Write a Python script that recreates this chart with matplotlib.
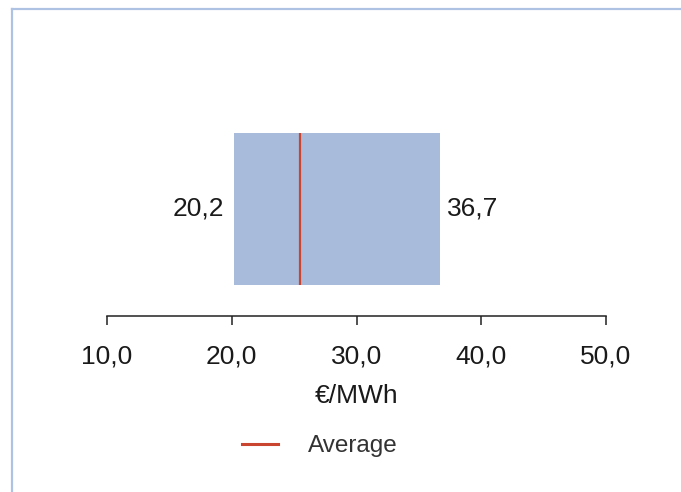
import matplotlib
matplotlib.use("Agg")
import matplotlib.pyplot as plt
from matplotlib.lines import Line2D
from matplotlib.ticker import FuncFormatter

# Data
categories = ["Price range"]
low_values = [20.2]
high_values = [36.7]
average_values = [25.5]
x_ticks = [10, 20, 30, 40, 50]
x_label = "€/MWh"
legend_label = "Average"

plt.rcParams['font.family'] = ['Liberation Sans', 'DejaVu Sans']

W, H = 681, 492
fig = plt.figure(figsize=(W / 100, H / 100), dpi=100)

# axes placement in pixels
ax_left, ax_right = 107, 606
ax_bottom_px, ax_top_px = 316, 100
ax = fig.add_axes([ax_left / W, 1 - ax_bottom_px / H,
                   (ax_right - ax_left) / W, (ax_bottom_px - ax_top_px) / H])

bar_h = 0.7
ys = list(range(len(categories)))
widths = [h - l for l, h in zip(low_values, high_values)]
ax.barh(ys, widths, left=low_values, height=bar_h, color='#a8bbda', zorder=2)
for y, avg in zip(ys, average_values):
    ax.vlines(avg, y - bar_h / 2, y + bar_h / 2, color='#c9452f', lw=1.6, zorder=3)

for y, l, h in zip(ys, low_values, high_values):
    ax.annotate(f"{l:.1f}".replace('.', ','), xy=(l, y), xytext=(-7, 0),
                textcoords='offset points', ha='right', va='center',
                fontsize=19, color='#1a1a1a')
    ax.annotate(f"{h:.1f}".replace('.', ','), xy=(h, y), xytext=(5, 0),
                textcoords='offset points', ha='left', va='center',
                fontsize=19, color='#1a1a1a')

ax.set_xlim(x_ticks[0], x_ticks[-1])
ax.set_ylim(-0.4925, 0.5)
ax.set_xticks(x_ticks)
ax.xaxis.set_major_formatter(FuncFormatter(lambda v, p: f"{v:.1f}".replace('.', ',')))
ax.set_yticks([])
for s in ['top', 'right', 'left']:
    ax.spines[s].set_visible(False)
ax.spines['bottom'].set_color('#222222')
ax.spines['bottom'].set_linewidth(1.1)
ax.tick_params(axis='x', direction='out', length=6.5, width=1.1, color='#222222',
               labelsize=19, labelcolor='#1a1a1a', pad=14)
ax.set_xlabel(x_label, fontsize=19, color='#1a1a1a', labelpad=11)

handle = Line2D([0], [0], color='#c9452f', lw=2.2)
fig.legend([handle], [legend_label], loc='center', bbox_to_anchor=(0.47, 1 - 446 / H),
           frameon=False, fontsize=17.5, handlelength=1.45, handletextpad=1.25,
           labelcolor='#333333')

# figure border lines (top and left)
fig.add_artist(Line2D([12 / W, 1], [1 - 9 / H, 1 - 9 / H], transform=fig.transFigure,
                      color='#aec3e3', lw=1.6))
fig.add_artist(Line2D([12 / W, 12 / W], [0, 1 - 9 / H], transform=fig.transFigure,
                      color='#aec3e3', lw=1.6))

fig.savefig('out.png', dpi=100)
